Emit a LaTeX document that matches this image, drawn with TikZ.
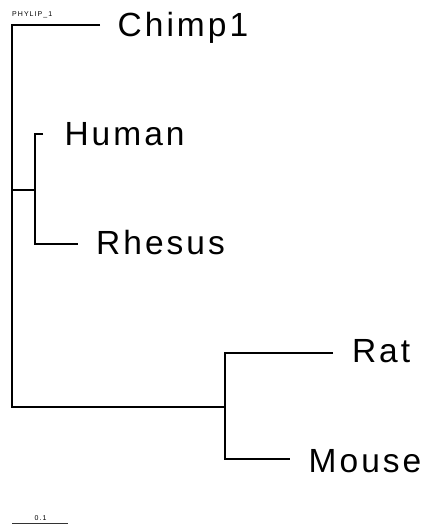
\documentclass[tikz,border=0pt]{standalone}
\usepackage{fontspec}
\setmainfont{Liberation Sans}
\newfontfamily\taxonfont{Liberation Sans}[LetterSpace=9]
\newfontfamily\smallfont{Liberation Sans}[LetterSpace=15]
\begin{document}
\begin{tikzpicture}[x=1pt,y=-1pt,
  branch/.style={draw=black,line width=1.3pt,line join=miter},
  scalebar/.style={draw=black!80,line width=1pt},
  taxon/.style={anchor=base west,inner sep=0pt,font=\taxonfont\fontsize{33.5}{38}\selectfont},
  tiny/.style={inner sep=0pt,font=\smallfont\fontsize{7}{8}\selectfont}]
\useasboundingbox (0,0) rectangle (426,527);

% internal nodes
\coordinate (nRoot) at (12,407);
\coordinate (nPrimate) at (35,190);
\coordinate (nRodent) at (225,407);

% leaf tips
\coordinate (tChimp) at (100,25);
\coordinate (tHuman) at (43,134);
\coordinate (tRhesus) at (78,244);
\coordinate (tRat) at (333,353);
\coordinate (tMouse) at (290,459);

% branches
\draw[branch] (tChimp) -| (nRoot) -- (nRodent);
\draw[branch] (nPrimate) -- (nPrimate -| nRoot);
\draw[branch] (tHuman) -| (nPrimate) |- (tRhesus);
\draw[branch] (tRat) -| (nRodent) |- (tMouse);

% taxon labels
\node[taxon] (lChimp) at (117.5,36.5) {Chimp1};
\node[taxon] (lHuman) at (64.3,145) {Human};
\node[taxon] (lRhesus) at (96,254) {Rhesus};
\node[taxon] (lRat) at (351.8,362.8) {Rat};
\node[taxon] (lMouse) at (308.5,472.3) {Mouse};

% tree title
\node[tiny,anchor=base west] (title) at (12,16.7) {PHYLIP\_1};

% scale bar
\coordinate (sbL) at (12,523);
\coordinate (sbR) at (68,523);
\draw[scalebar] (sbL) -- (sbR);
\node[tiny,anchor=base] (sbLabel) at (40.5,520.5) {0.1};
\end{tikzpicture}
\end{document}
